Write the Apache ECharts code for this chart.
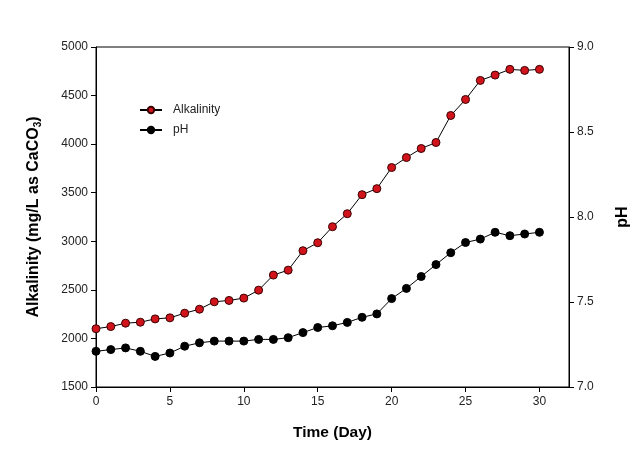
<!DOCTYPE html>
<html><head><meta charset="utf-8">
<script src="https://cdn.jsdelivr.net/npm/echarts@6/dist/echarts.min.js"></script>
<style>html,body{margin:0;padding:0;background:#fff;}#c{width:642px;height:451px;}</style>
</head><body><div id="c"></div>
<script>
const days = [0,1,2,3,4,5,6,7,8,9,10,11,12,13,14,15,16,17,18,19,20,21,22,23,24,25,26,27,28,29,30];
const alkalinity = [2100,2122,2157,2167,2201,2212,2260,2301,2377,2391,2415,2497,2652,2703,2903,2985,3150,3284,3480,3542,3759,3862,3955,4017,4295,4460,4656,4711,4770,4759,4770];
const pH = [7.21,7.22,7.23,7.21,7.18,7.20,7.24,7.26,7.27,7.27,7.27,7.28,7.28,7.29,7.32,7.35,7.36,7.38,7.41,7.43,7.52,7.58,7.65,7.72,7.79,7.85,7.87,7.91,7.89,7.90,7.91];
const xTicks = [0,5,10,15,20,25,30];

const font = 'Liberation Sans, Arial, sans-serif';
const chart = echarts.init(document.getElementById('c'));
const lbl = {color:'#222', fontSize:12, fontFamily:font};
const axLine = {show:true, lineStyle:{color:'#000', width:1}};
const tick = {show:true, inside:false, length:5, lineStyle:{color:'#000'}};
chart.setOption({
  animation:false,
  backgroundColor:'#fff',
  grid:{left:96, right:73, top:47, bottom:64, show:true, borderColor:'#000', borderWidth:1},
  legend:{
    orient:'vertical', left:134, top:99, itemWidth:22, itemHeight:8, itemGap:8,
    textStyle:{color:'#222', fontSize:12, fontFamily:font, padding:[0,0,0,6]},
    data:['Alkalinity','pH']
  },
  xAxis:{
    type:'value', min:0, max:32,
    name:'Time (Day)', nameLocation:'middle', nameGap:38,
    nameTextStyle:{fontWeight:'bold', fontSize:15.5, color:'#000', fontFamily:font},
    axisLine:axLine,
    axisTick:Object.assign({customValues:xTicks}, tick),
    splitLine:{show:false},
    axisLabel:Object.assign({margin:9, customValues:xTicks, formatter:v=>String(v)}, lbl)
  },
  yAxis:[{
    type:'value', min:1500, max:5000, interval:500, position:'left',
    name:'{a|Alkalinity (mg/L as CaCO}{s|3}{a|)}', nameLocation:'middle', nameGap:53, nameRotate:90,
    nameTextStyle:{rich:{
      a:{fontWeight:'bold', fontSize:16, color:'#000', fontFamily:font},
      s:{fontWeight:'bold', fontSize:10, color:'#000', fontFamily:font, verticalAlign:'bottom', padding:[9,0,0,0]}
    }},
    axisLine:axLine, axisTick:tick, splitLine:{show:false},
    axisLabel:Object.assign({margin:8, formatter:v=>String(v)}, lbl)
  },{
    type:'value', min:7, max:9, interval:0.5, position:'right',
    name:'pH', nameLocation:'middle', nameGap:46, nameRotate:90,
    nameTextStyle:{fontWeight:'bold', fontSize:16, color:'#000', fontFamily:font},
    axisLine:axLine, axisTick:tick, splitLine:{show:false},
    axisLabel:Object.assign({margin:8, formatter:v=>v.toFixed(1)}, lbl)
  }],
  series:[{
    name:'Alkalinity', type:'line', yAxisIndex:0,
    data:days.map((d,i)=>[d,alkalinity[i]]),
    symbol:'circle', symbolSize:8,
    lineStyle:{color:'#000', width:1},
    itemStyle:{color:'#d1141c', borderColor:'#3a0000', borderWidth:1},
    z:3
  },{
    name:'pH', type:'line', yAxisIndex:1,
    data:days.map((d,i)=>[d,pH[i]]),
    symbol:'circle', symbolSize:8,
    lineStyle:{color:'#000', width:1},
    itemStyle:{color:'#000', borderColor:'#000', borderWidth:1},
    z:3
  }]
});
</script></body></html>
